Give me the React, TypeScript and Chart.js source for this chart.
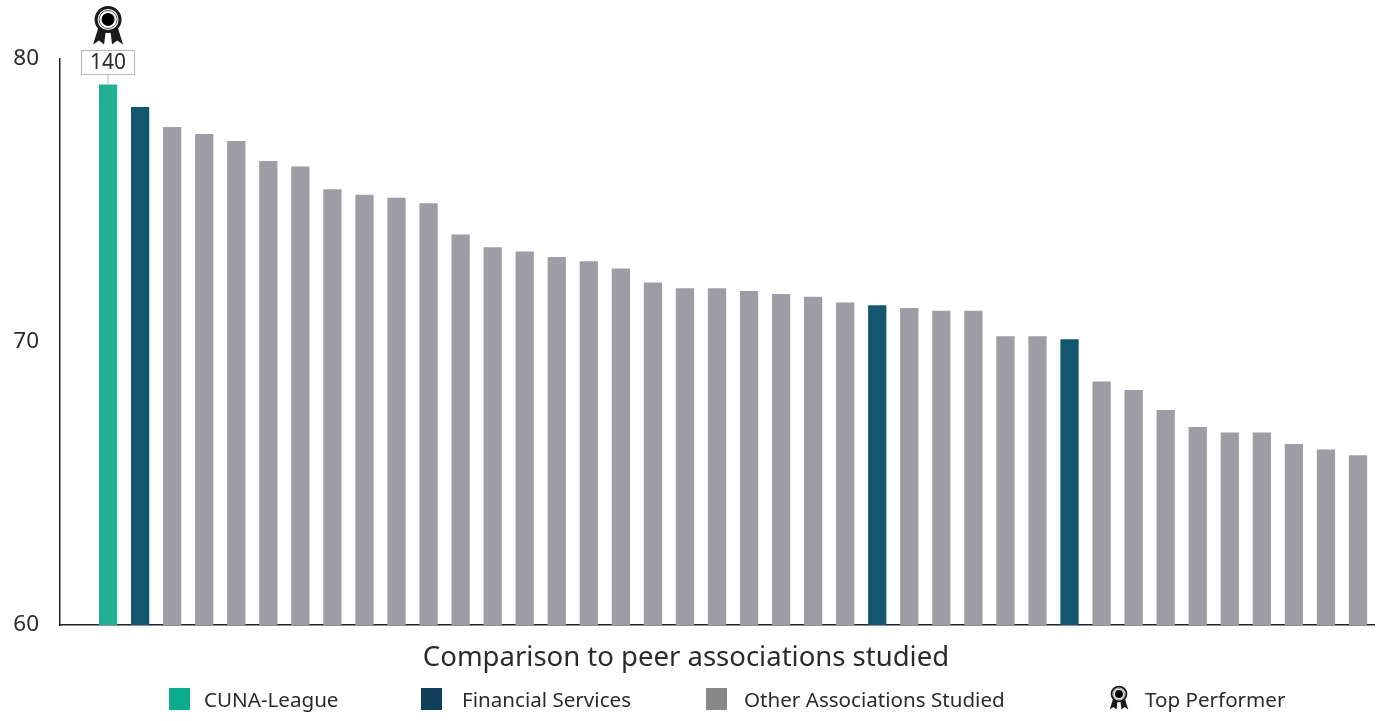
import React, { useEffect, useRef } from "react";
import { Chart, registerables } from "chart.js";

Chart.register(...registerables);

const categories: string[] = ["", ...Array.from({ length: 40 }, (_, i) => `Association ${i + 1}`)];
const values: (number | null)[] = [
  null, 79.1, 78.3, 77.6, 77.35, 77.1, 76.4, 76.2, 75.4, 75.2, 75.1, 74.9, 73.8, 73.35, 73.2, 73.0, 72.85, 72.6,
  72.1, 71.9, 71.9, 71.8, 71.7, 71.6, 71.4, 71.3, 71.2, 71.1, 71.1, 70.2, 70.2, 70.1, 68.6, 68.3, 67.6, 67.0,
  66.8, 66.8, 66.4, 66.2, 66.0,
];
const cunaIndex = [1];
const financialIndex = [2, 25, 31];
const topIndex = 1;
const topLabel = "140";
const yTicks = [60, 70, 80];
const xTitle = "Comparison to peer associations studied";
const legendLabels = ["CUNA-League", "Financial Services", "Other Associations Studied", "Top Performer"];

const TEAL = "#22b095";
const NAVY = "#14566e";
const GREY = "#9d9ea5";
const legendColors = ["#0dab8e", "#0f3f58", "#888888", null];
const legendSwatchX = [169, 421, 706, 1119];
const legendTextX = [204, 462, 744, 1145];
const FONT = '"Noto Sans", sans-serif';
const INK = "#2b2b2b";

function medal(ctx: CanvasRenderingContext2D, cx: number, cy: number, s: number) {
  ctx.save();
  ctx.fillStyle = "#1a1a1a";
  ctx.strokeStyle = "#1a1a1a";
  for (const d of [-1, 1]) {
    ctx.beginPath();
    ctx.moveTo(cx + d * 2 * s, cy + 9 * s);
    ctx.lineTo(cx + d * 9 * s, cy + 6 * s);
    ctx.lineTo(cx + d * 15 * s, cy + 25 * s);
    ctx.lineTo(cx + d * 9 * s, cy + 21 * s);
    ctx.lineTo(cx + d * 4 * s, cy + 25 * s);
    ctx.closePath();
    ctx.fill();
  }
  ctx.beginPath();
  ctx.arc(cx, cy, 12 * s, 0, Math.PI * 2);
  ctx.fillStyle = "#ffffff";
  ctx.fill();
  ctx.lineWidth = 3 * s;
  ctx.stroke();
  ctx.beginPath();
  ctx.arc(cx, cy, 9 * s, 0, Math.PI * 2);
  ctx.lineWidth = 1 * s;
  ctx.strokeStyle = "#555";
  ctx.stroke();
  ctx.beginPath();
  ctx.arc(cx, cy, 6.5 * s, 0, Math.PI * 2);
  ctx.fillStyle = "#000";
  ctx.fill();
  ctx.restore();
}

const annotations = {
  id: "annotations",
  afterDatasetsDraw(chart: Chart) {
    const ctx = chart.ctx;
    const bar = chart.getDatasetMeta(0).data[topIndex] as any;
    const bx = bar.x;
    const by = bar.y;
    ctx.save();
    const boxW = 53, boxH = 24, boxTop = by - 34;
    ctx.strokeStyle = "#b5b5b5";
    ctx.lineWidth = 1;
    ctx.beginPath();
    ctx.moveTo(bx, boxTop + boxH);
    ctx.lineTo(bx, by);
    ctx.stroke();
    ctx.fillStyle = "#fff";
    ctx.fillRect(bx - boxW / 2, boxTop, boxW, boxH);
    ctx.strokeRect(bx - boxW / 2, boxTop, boxW, boxH);
    ctx.fillStyle = INK;
    ctx.font = `21px ${FONT}`;
    ctx.textAlign = "center";
    ctx.textBaseline = "middle";
    ctx.fillText(topLabel, bx, boxTop + boxH / 2 + 1);
    medal(ctx, bx, by - 65, 1);

    ctx.font = `27.5px ${FONT}`;
    ctx.fillStyle = INK;
    ctx.fillText(xTitle, 686, 658);

    const ly = 699;
    ctx.font = `20.6px ${FONT}`;
    ctx.textAlign = "left";
    legendLabels.forEach((label, i) => {
      const c = legendColors[i];
      if (c) {
        ctx.fillStyle = c;
        ctx.fillRect(legendSwatchX[i], ly - 11, 21, 22);
      } else {
        medal(ctx, legendSwatchX[i], ly - 5, 0.62);
      }
      ctx.fillStyle = INK;
      ctx.fillText(label, legendTextX[i], ly + 2);
    });
    ctx.restore();
  },
};

export default function App() {
  const ref = useRef<HTMLCanvasElement>(null);
  useEffect(() => {
    document.body.style.margin = "0";
    const chart = new Chart(ref.current!, {
      type: "bar",
      data: {
        labels: categories,
        datasets: [
          {
            data: values,
            backgroundColor: values.map((_, i) =>
              cunaIndex.includes(i) ? TEAL : financialIndex.includes(i) ? NAVY : GREY
            ),
            categoryPercentage: 1,
            barPercentage: 0.57,
          },
        ],
      },
      options: {
        animation: false,
        responsive: false,
        devicePixelRatio: 1,
        layout: { padding: { top: 59, right: 9, left: 0, bottom: 88 } },
        plugins: { legend: { display: false }, tooltip: { enabled: false }, title: { display: false } },
        scales: {
          x: {
            grid: { display: false },
            border: { display: true, color: "#222", width: 1.5 },
            ticks: { display: false },
          },
          y: {
            min: 60,
            max: 80,
            afterFit(scale: any) {
              scale.width = 60;
            },
            afterBuildTicks(scale: any) {
              scale.ticks = yTicks.map((value) => ({ value }));
            },
            grid: { display: false },
            border: { display: true, color: "#222", width: 1.5 },
            ticks: {
              color: INK,
              padding: 13,
              font: { family: '"Noto Sans", sans-serif', size: 22.5 },
            },
          },
        },
      },
      plugins: [annotations],
    } as any);
    return () => chart.destroy();
  }, []);
  return <canvas ref={ref} width={1383} height={721} style={{ display: "block" }} />;
}
